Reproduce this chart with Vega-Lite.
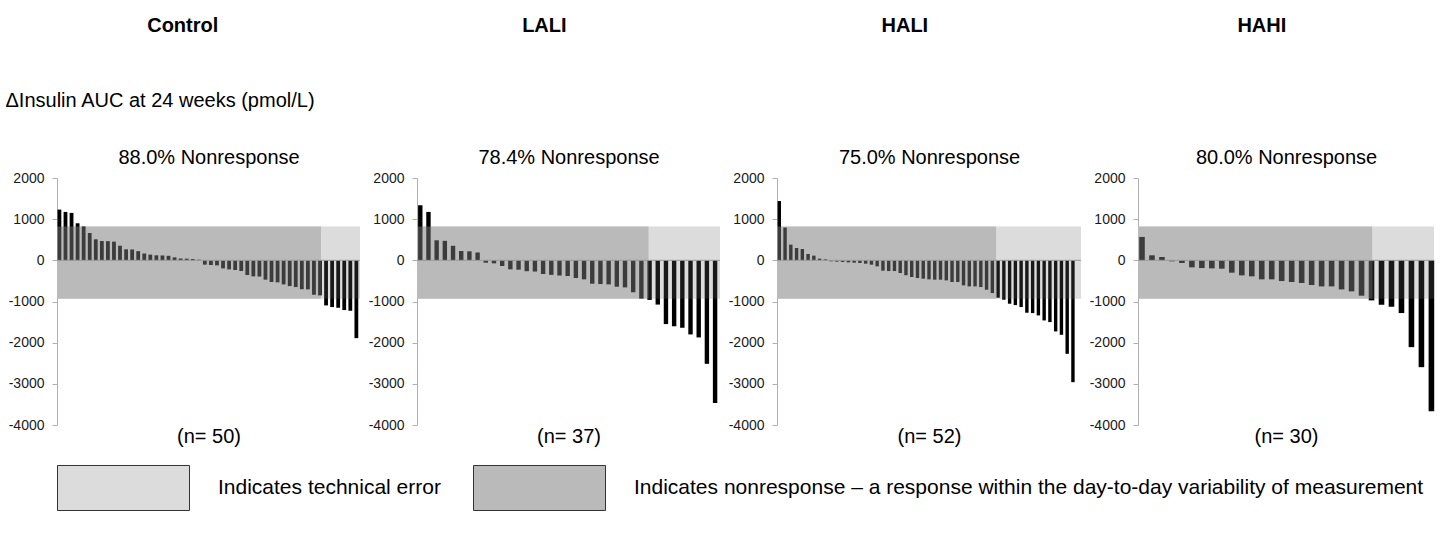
{
  "$schema": "https://vega.github.io/schema/vega-lite/v6.json",
  "background": "white",
  "padding": {"left": 5, "top": 16, "right": 5, "bottom": 5},
  "datasets": {
    "bars": [
      {"group": "Control", "rank": 1, "value": 1233}, {"group": "Control", "rank": 2, "value": 1176}, {"group": "Control", "rank": 3, "value": 1152}, {"group": "Control", "rank": 4, "value": 900}, {"group": "Control", "rank": 5, "value": 823},
      {"group": "Control", "rank": 6, "value": 665}, {"group": "Control", "rank": 7, "value": 511}, {"group": "Control", "rank": 8, "value": 470}, {"group": "Control", "rank": 9, "value": 466}, {"group": "Control", "rank": 10, "value": 454},
      {"group": "Control", "rank": 11, "value": 357}, {"group": "Control", "rank": 12, "value": 268}, {"group": "Control", "rank": 13, "value": 264}, {"group": "Control", "rank": 14, "value": 223}, {"group": "Control", "rank": 15, "value": 166},
      {"group": "Control", "rank": 16, "value": 138}, {"group": "Control", "rank": 17, "value": 122}, {"group": "Control", "rank": 18, "value": 118}, {"group": "Control", "rank": 19, "value": 110}, {"group": "Control", "rank": 20, "value": 73},
      {"group": "Control", "rank": 21, "value": 45}, {"group": "Control", "rank": 22, "value": 41}, {"group": "Control", "rank": 23, "value": 32}, {"group": "Control", "rank": 24, "value": 16}, {"group": "Control", "rank": 25, "value": -105},
      {"group": "Control", "rank": 26, "value": -114}, {"group": "Control", "rank": 27, "value": -122}, {"group": "Control", "rank": 28, "value": -195}, {"group": "Control", "rank": 29, "value": -219}, {"group": "Control", "rank": 30, "value": -235},
      {"group": "Control", "rank": 31, "value": -260}, {"group": "Control", "rank": 32, "value": -357}, {"group": "Control", "rank": 33, "value": -389}, {"group": "Control", "rank": 34, "value": -393}, {"group": "Control", "rank": 35, "value": -470},
      {"group": "Control", "rank": 36, "value": -527}, {"group": "Control", "rank": 37, "value": -535}, {"group": "Control", "rank": 38, "value": -584}, {"group": "Control", "rank": 39, "value": -625}, {"group": "Control", "rank": 40, "value": -649},
      {"group": "Control", "rank": 41, "value": -702}, {"group": "Control", "rank": 42, "value": -706}, {"group": "Control", "rank": 43, "value": -835}, {"group": "Control", "rank": 44, "value": -852}, {"group": "Control", "rank": 45, "value": -1095},
      {"group": "Control", "rank": 46, "value": -1135}, {"group": "Control", "rank": 47, "value": -1152}, {"group": "Control", "rank": 48, "value": -1208}, {"group": "Control", "rank": 49, "value": -1225}, {"group": "Control", "rank": 50, "value": -1890},

      {"group": "LALI", "rank": 1, "value": 1338}, {"group": "LALI", "rank": 2, "value": 1176}, {"group": "LALI", "rank": 3, "value": 487}, {"group": "LALI", "rank": 4, "value": 474}, {"group": "LALI", "rank": 5, "value": 353},
      {"group": "LALI", "rank": 6, "value": 227}, {"group": "LALI", "rank": 7, "value": 219}, {"group": "LALI", "rank": 8, "value": 191}, {"group": "LALI", "rank": 9, "value": -57}, {"group": "LALI", "rank": 10, "value": -73},
      {"group": "LALI", "rank": 11, "value": -138}, {"group": "LALI", "rank": 12, "value": -219}, {"group": "LALI", "rank": 13, "value": -227}, {"group": "LALI", "rank": 14, "value": -264}, {"group": "LALI", "rank": 15, "value": -272},
      {"group": "LALI", "rank": 16, "value": -333}, {"group": "LALI", "rank": 17, "value": -353}, {"group": "LALI", "rank": 18, "value": -369}, {"group": "LALI", "rank": 19, "value": -381}, {"group": "LALI", "rank": 20, "value": -430},
      {"group": "LALI", "rank": 21, "value": -462}, {"group": "LALI", "rank": 22, "value": -568}, {"group": "LALI", "rank": 23, "value": -576}, {"group": "LALI", "rank": 24, "value": -584}, {"group": "LALI", "rank": 25, "value": -641},
      {"group": "LALI", "rank": 26, "value": -657}, {"group": "LALI", "rank": 27, "value": -775}, {"group": "LALI", "rank": 28, "value": -929}, {"group": "LALI", "rank": 29, "value": -961}, {"group": "LALI", "rank": 30, "value": -1075},
      {"group": "LALI", "rank": 31, "value": -1549}, {"group": "LALI", "rank": 32, "value": -1602}, {"group": "LALI", "rank": 33, "value": -1638}, {"group": "LALI", "rank": 34, "value": -1800}, {"group": "LALI", "rank": 35, "value": -1873},
      {"group": "LALI", "rank": 36, "value": -2514}, {"group": "LALI", "rank": 37, "value": -3463},

      {"group": "HALI", "rank": 1, "value": 1440}, {"group": "HALI", "rank": 2, "value": 795}, {"group": "HALI", "rank": 3, "value": 381}, {"group": "HALI", "rank": 4, "value": 300}, {"group": "HALI", "rank": 5, "value": 276},
      {"group": "HALI", "rank": 6, "value": 154}, {"group": "HALI", "rank": 7, "value": 114}, {"group": "HALI", "rank": 8, "value": 41}, {"group": "HALI", "rank": 9, "value": 24}, {"group": "HALI", "rank": 10, "value": -24},
      {"group": "HALI", "rank": 11, "value": -32}, {"group": "HALI", "rank": 12, "value": -41}, {"group": "HALI", "rank": 13, "value": -49}, {"group": "HALI", "rank": 14, "value": -57}, {"group": "HALI", "rank": 15, "value": -65},
      {"group": "HALI", "rank": 16, "value": -81}, {"group": "HALI", "rank": 17, "value": -105}, {"group": "HALI", "rank": 18, "value": -146}, {"group": "HALI", "rank": 19, "value": -251}, {"group": "HALI", "rank": 20, "value": -260},
      {"group": "HALI", "rank": 21, "value": -260}, {"group": "HALI", "rank": 22, "value": -308}, {"group": "HALI", "rank": 23, "value": -365}, {"group": "HALI", "rank": 24, "value": -405}, {"group": "HALI", "rank": 25, "value": -430},
      {"group": "HALI", "rank": 26, "value": -446}, {"group": "HALI", "rank": 27, "value": -462}, {"group": "HALI", "rank": 28, "value": -470}, {"group": "HALI", "rank": 29, "value": -470}, {"group": "HALI", "rank": 30, "value": -487},
      {"group": "HALI", "rank": 31, "value": -527}, {"group": "HALI", "rank": 32, "value": -527}, {"group": "HALI", "rank": 33, "value": -608}, {"group": "HALI", "rank": 34, "value": -633}, {"group": "HALI", "rank": 35, "value": -633},
      {"group": "HALI", "rank": 36, "value": -649}, {"group": "HALI", "rank": 37, "value": -714}, {"group": "HALI", "rank": 38, "value": -795}, {"group": "HALI", "rank": 39, "value": -908}, {"group": "HALI", "rank": 40, "value": -957},
      {"group": "HALI", "rank": 41, "value": -1054}, {"group": "HALI", "rank": 42, "value": -1087}, {"group": "HALI", "rank": 43, "value": -1135}, {"group": "HALI", "rank": 44, "value": -1273}, {"group": "HALI", "rank": 45, "value": -1281},
      {"group": "HALI", "rank": 46, "value": -1338}, {"group": "HALI", "rank": 47, "value": -1460}, {"group": "HALI", "rank": 48, "value": -1500}, {"group": "HALI", "rank": 49, "value": -1727}, {"group": "HALI", "rank": 50, "value": -1809},
      {"group": "HALI", "rank": 51, "value": -2271}, {"group": "HALI", "rank": 52, "value": -2960},

      {"group": "HAHI", "rank": 1, "value": 568}, {"group": "HAHI", "rank": 2, "value": 122}, {"group": "HAHI", "rank": 3, "value": 81}, {"group": "HAHI", "rank": 4, "value": -24}, {"group": "HAHI", "rank": 5, "value": -65},
      {"group": "HAHI", "rank": 6, "value": -170}, {"group": "HAHI", "rank": 7, "value": -187}, {"group": "HAHI", "rank": 8, "value": -195}, {"group": "HAHI", "rank": 9, "value": -203}, {"group": "HAHI", "rank": 10, "value": -300},
      {"group": "HAHI", "rank": 11, "value": -365}, {"group": "HAHI", "rank": 12, "value": -389}, {"group": "HAHI", "rank": 13, "value": -462}, {"group": "HAHI", "rank": 14, "value": -462}, {"group": "HAHI", "rank": 15, "value": -503},
      {"group": "HAHI", "rank": 16, "value": -527}, {"group": "HAHI", "rank": 17, "value": -551}, {"group": "HAHI", "rank": 18, "value": -600}, {"group": "HAHI", "rank": 19, "value": -633}, {"group": "HAHI", "rank": 20, "value": -633},
      {"group": "HAHI", "rank": 21, "value": -706}, {"group": "HAHI", "rank": 22, "value": -754}, {"group": "HAHI", "rank": 23, "value": -859}, {"group": "HAHI", "rank": 24, "value": -973}, {"group": "HAHI", "rank": 25, "value": -1079},
      {"group": "HAHI", "rank": 26, "value": -1127}, {"group": "HAHI", "rank": 27, "value": -1281}, {"group": "HAHI", "rank": 28, "value": -2109}, {"group": "HAHI", "rank": 29, "value": -2595}, {"group": "HAHI", "rank": 30, "value": -3666}
    ],
    "bands": [
      {"group": "Control", "kind": "Indicates nonresponse –  a response within the day-to-day variability of measurement", "start": 0.6, "end": 44.2, "lo": -935, "hi": 820},
      {"group": "Control", "kind": "Indicates technical error", "start": 44.2, "end": 50.6, "lo": -935, "hi": 820},
      {"group": "LALI", "kind": "Indicates nonresponse –  a response within the day-to-day variability of measurement", "start": 0.6, "end": 28.9, "lo": -935, "hi": 820},
      {"group": "LALI", "kind": "Indicates technical error", "start": 28.9, "end": 37.6, "lo": -935, "hi": 820},
      {"group": "HALI", "kind": "Indicates nonresponse –  a response within the day-to-day variability of measurement", "start": 0.6, "end": 38.7, "lo": -935, "hi": 820},
      {"group": "HALI", "kind": "Indicates technical error", "start": 38.7, "end": 53.4, "lo": -935, "hi": 820},
      {"group": "HAHI", "kind": "Indicates nonresponse –  a response within the day-to-day variability of measurement", "start": 0.6, "end": 24.1, "lo": -935, "hi": 820},
      {"group": "HAHI", "kind": "Indicates technical error", "start": 24.1, "end": 30.26, "lo": -935, "hi": 820}
    ],
    "baseline": [{"base": 0}]
  },
  "spacing": 7,
  "hconcat": [
    {
      "width": 303, "height": 247,
      "title": {"text": "Control", "offset": 54},
      "resolve": {"axis": {"x": "independent"}},
      "layer": [
        {
          "data": {"name": "bands"},
          "transform": [{"filter": "datum.group === 'Control'"}],
          "mark": {"type": "rect"},
          "encoding": {
            "x": {"field": "start", "type": "quantitative", "scale": {"zero": false, "nice": false, "padding": 0},
                  "axis": {"orient": "top", "title": "88.0% Nonresponse", "labels": false, "ticks": false, "domain": false, "grid": false, "titlePadding": 11}},
            "x2": {"field": "end"},
            "y": {"field": "lo", "type": "quantitative", "scale": {"domain": [-4000, 2000], "nice": false},
                  "axis": {"title": "ΔInsulin AUC at 24 weeks (pmol/L)", "titleAngle": 0, "titleAlign": "left", "titleBaseline": "middle", "titleX": -52, "titleY": -78}},
            "y2": {"field": "hi"},
            "color": {"field": "kind", "type": "nominal", "title": null,
                      "scale": {"domain": ["Indicates technical error", "Indicates nonresponse –  a response within the day-to-day variability of measurement"], "range": ["#dcdcdc", "#bababa"]}}
          }
        },
        {
          "data": {"name": "bars"},
          "transform": [{"filter": "datum.group === 'Control'"}],
          "mark": {"type": "bar", "color": "#000000", "width": 3.8},
          "encoding": {
            "x": {"field": "rank", "type": "quantitative",
                  "axis": {"orient": "bottom", "title": "(n= 50)", "labels": false, "ticks": false, "domain": false, "grid": false, "titlePadding": 1}},
            "y": {"field": "value", "type": "quantitative",
                  "axis": {"title": "ΔInsulin AUC at 24 weeks (pmol/L)", "titleAngle": 0, "titleAlign": "left", "titleBaseline": "middle", "titleX": -52, "titleY": -78}}
          }
        },
        {
          "data": {"name": "bands"},
          "transform": [{"filter": "datum.group === 'Control' && datum.kind !== 'Indicates technical error'"}],
          "mark": {"type": "rect", "color": "#bababa", "opacity": 0.32},
          "encoding": {
            "x": {"field": "start", "type": "quantitative", "axis": null},
            "x2": {"field": "end"},
            "y": {"field": "lo", "type": "quantitative",
                  "axis": {"title": "ΔInsulin AUC at 24 weeks (pmol/L)", "titleAngle": 0, "titleAlign": "left", "titleBaseline": "middle", "titleX": -52, "titleY": -78}},
            "y2": {"field": "hi"}
          }
        },
        {
          "data": {"name": "bands"},
          "transform": [{"filter": "datum.group === 'Control' && datum.kind === 'Indicates technical error'"}],
          "mark": {"type": "rect", "color": "#dcdcdc", "opacity": 0.115},
          "encoding": {
            "x": {"field": "start", "type": "quantitative", "axis": null},
            "x2": {"field": "end"},
            "y": {"field": "lo", "type": "quantitative",
                  "axis": {"title": "ΔInsulin AUC at 24 weeks (pmol/L)", "titleAngle": 0, "titleAlign": "left", "titleBaseline": "middle", "titleX": -52, "titleY": -78}},
            "y2": {"field": "hi"}
          }
        },
        {
          "data": {"name": "baseline"},
          "mark": {"type": "rule", "color": "#9a9a9a", "strokeWidth": 1},
          "encoding": {"y": {"field": "base", "type": "quantitative",
                  "axis": {"title": "ΔInsulin AUC at 24 weeks (pmol/L)", "titleAngle": 0, "titleAlign": "left", "titleBaseline": "middle", "titleX": -52, "titleY": -78}}}
        }
      ]
    },
    {
      "width": 303, "height": 247,
      "title": {"text": "LALI", "offset": 111},
      "resolve": {"axis": {"x": "independent"}},
      "layer": [
        {
          "data": {"name": "bands"},
          "transform": [{"filter": "datum.group === 'LALI'"}],
          "mark": {"type": "rect"},
          "encoding": {
            "x": {"field": "start", "type": "quantitative", "scale": {"zero": false, "nice": false, "padding": 0},
                  "axis": {"orient": "top", "title": "78.4% Nonresponse", "labels": false, "ticks": false, "domain": false, "grid": false, "titlePadding": 11}},
            "x2": {"field": "end"},
            "y": {"field": "lo", "type": "quantitative", "scale": {"domain": [-4000, 2000], "nice": false}, "axis": {"title": null}},
            "y2": {"field": "hi"},
            "color": {"field": "kind", "type": "nominal", "title": null,
                      "scale": {"domain": ["Indicates technical error", "Indicates nonresponse –  a response within the day-to-day variability of measurement"], "range": ["#dcdcdc", "#bababa"]}}
          }
        },
        {
          "data": {"name": "bars"},
          "transform": [{"filter": "datum.group === 'LALI'"}],
          "mark": {"type": "bar", "color": "#000000", "width": 4.4},
          "encoding": {
            "x": {"field": "rank", "type": "quantitative",
                  "axis": {"orient": "bottom", "title": "(n= 37)", "labels": false, "ticks": false, "domain": false, "grid": false, "titlePadding": 1}},
            "y": {"field": "value", "type": "quantitative", "axis": {"title": null}}
          }
        },
        {
          "data": {"name": "bands"},
          "transform": [{"filter": "datum.group === 'LALI' && datum.kind !== 'Indicates technical error'"}],
          "mark": {"type": "rect", "color": "#bababa", "opacity": 0.32},
          "encoding": {
            "x": {"field": "start", "type": "quantitative", "axis": null},
            "x2": {"field": "end"},
            "y": {"field": "lo", "type": "quantitative", "axis": {"title": null}},
            "y2": {"field": "hi"}
          }
        },
        {
          "data": {"name": "bands"},
          "transform": [{"filter": "datum.group === 'LALI' && datum.kind === 'Indicates technical error'"}],
          "mark": {"type": "rect", "color": "#dcdcdc", "opacity": 0.115},
          "encoding": {
            "x": {"field": "start", "type": "quantitative", "axis": null},
            "x2": {"field": "end"},
            "y": {"field": "lo", "type": "quantitative", "axis": {"title": null}},
            "y2": {"field": "hi"}
          }
        },
        {
          "data": {"name": "baseline"},
          "mark": {"type": "rule", "color": "#9a9a9a", "strokeWidth": 1},
          "encoding": {"y": {"field": "base", "type": "quantitative", "axis": {"title": null}}}
        }
      ]
    },
    {
      "width": 304, "height": 247,
      "title": {"text": "HALI", "offset": 111},
      "resolve": {"axis": {"x": "independent"}},
      "layer": [
        {
          "data": {"name": "bands"},
          "transform": [{"filter": "datum.group === 'HALI'"}],
          "mark": {"type": "rect"},
          "encoding": {
            "x": {"field": "start", "type": "quantitative", "scale": {"zero": false, "nice": false, "padding": 0},
                  "axis": {"orient": "top", "title": "75.0% Nonresponse", "labels": false, "ticks": false, "domain": false, "grid": false, "titlePadding": 11}},
            "x2": {"field": "end"},
            "y": {"field": "lo", "type": "quantitative", "scale": {"domain": [-4000, 2000], "nice": false}, "axis": {"title": null}},
            "y2": {"field": "hi"},
            "color": {"field": "kind", "type": "nominal", "title": null,
                      "scale": {"domain": ["Indicates technical error", "Indicates nonresponse –  a response within the day-to-day variability of measurement"], "range": ["#dcdcdc", "#bababa"]}}
          }
        },
        {
          "data": {"name": "bars"},
          "transform": [{"filter": "datum.group === 'HALI'"}],
          "mark": {"type": "bar", "color": "#000000", "width": 3.4},
          "encoding": {
            "x": {"field": "rank", "type": "quantitative",
                  "axis": {"orient": "bottom", "title": "(n= 52)", "labels": false, "ticks": false, "domain": false, "grid": false, "titlePadding": 1}},
            "y": {"field": "value", "type": "quantitative", "axis": {"title": null}}
          }
        },
        {
          "data": {"name": "bands"},
          "transform": [{"filter": "datum.group === 'HALI' && datum.kind !== 'Indicates technical error'"}],
          "mark": {"type": "rect", "color": "#bababa", "opacity": 0.32},
          "encoding": {
            "x": {"field": "start", "type": "quantitative", "axis": null},
            "x2": {"field": "end"},
            "y": {"field": "lo", "type": "quantitative", "axis": {"title": null}},
            "y2": {"field": "hi"}
          }
        },
        {
          "data": {"name": "bands"},
          "transform": [{"filter": "datum.group === 'HALI' && datum.kind === 'Indicates technical error'"}],
          "mark": {"type": "rect", "color": "#dcdcdc", "opacity": 0.115},
          "encoding": {
            "x": {"field": "start", "type": "quantitative", "axis": null},
            "x2": {"field": "end"},
            "y": {"field": "lo", "type": "quantitative", "axis": {"title": null}},
            "y2": {"field": "hi"}
          }
        },
        {
          "data": {"name": "baseline"},
          "mark": {"type": "rule", "color": "#9a9a9a", "strokeWidth": 1},
          "encoding": {"y": {"field": "base", "type": "quantitative", "axis": {"title": null}}}
        }
      ]
    },
    {
      "width": 296, "height": 247,
      "title": {"text": "HAHI", "offset": 111},
      "resolve": {"axis": {"x": "independent"}},
      "layer": [
        {
          "data": {"name": "bands"},
          "transform": [{"filter": "datum.group === 'HAHI'"}],
          "mark": {"type": "rect"},
          "encoding": {
            "x": {"field": "start", "type": "quantitative", "scale": {"zero": false, "nice": false, "padding": 0},
                  "axis": {"orient": "top", "title": "80.0% Nonresponse", "labels": false, "ticks": false, "domain": false, "grid": false, "titlePadding": 11}},
            "x2": {"field": "end"},
            "y": {"field": "lo", "type": "quantitative", "scale": {"domain": [-4000, 2000], "nice": false}, "axis": {"title": null}},
            "y2": {"field": "hi"},
            "color": {"field": "kind", "type": "nominal", "title": null,
                      "scale": {"domain": ["Indicates technical error", "Indicates nonresponse –  a response within the day-to-day variability of measurement"], "range": ["#dcdcdc", "#bababa"]}}
          }
        },
        {
          "data": {"name": "bars"},
          "transform": [{"filter": "datum.group === 'HAHI'"}],
          "mark": {"type": "bar", "color": "#000000", "width": 5.6},
          "encoding": {
            "x": {"field": "rank", "type": "quantitative",
                  "axis": {"orient": "bottom", "title": "(n= 30)", "labels": false, "ticks": false, "domain": false, "grid": false, "titlePadding": 1}},
            "y": {"field": "value", "type": "quantitative", "axis": {"title": null}}
          }
        },
        {
          "data": {"name": "bands"},
          "transform": [{"filter": "datum.group === 'HAHI' && datum.kind !== 'Indicates technical error'"}],
          "mark": {"type": "rect", "color": "#bababa", "opacity": 0.32},
          "encoding": {
            "x": {"field": "start", "type": "quantitative", "axis": null},
            "x2": {"field": "end"},
            "y": {"field": "lo", "type": "quantitative", "axis": {"title": null}},
            "y2": {"field": "hi"}
          }
        },
        {
          "data": {"name": "bands"},
          "transform": [{"filter": "datum.group === 'HAHI' && datum.kind === 'Indicates technical error'"}],
          "mark": {"type": "rect", "color": "#dcdcdc", "opacity": 0.115},
          "encoding": {
            "x": {"field": "start", "type": "quantitative", "axis": null},
            "x2": {"field": "end"},
            "y": {"field": "lo", "type": "quantitative", "axis": {"title": null}},
            "y2": {"field": "hi"}
          }
        },
        {
          "data": {"name": "baseline"},
          "mark": {"type": "rule", "color": "#9a9a9a", "strokeWidth": 1},
          "encoding": {"y": {"field": "base", "type": "quantitative", "axis": {"title": null}}}
        }
      ]
    }
  ],
  "config": {
    "font": "Liberation Sans",
    "locale": {"number": {"decimal": ".", "thousands": "", "grouping": [3], "currency": ["$", ""], "minus": "-"}},
    "view": {"stroke": null},
    "title": {"fontSize": 20, "fontWeight": "bold", "color": "#000000", "anchor": "middle", "frame": "bounds"},
    "axis": {
      "titleFontSize": 20, "titleFontWeight": "normal", "titleColor": "#000000",
      "labelFontSize": 14, "labelColor": "#1a1a1a",
      "domainColor": "#b0b0b0", "tickColor": "#b0b0b0", "tickSize": 5, "labelPadding": 8,
      "grid": false
    },
    "axisY": {"values": [-4000, -3000, -2000, -1000, 0, 1000, 2000], "format": "d"},
    "legend": {
      "orient": "bottom", "direction": "horizontal", "offset": -25, "padding": 0,
      "symbolType": "M-1,-0.341H1V0.341H-1Z", "symbolSize": 17424,
      "symbolStrokeColor": "#333333", "symbolStrokeWidth": 1,
      "labelFontSize": 21, "labelColor": "#000000", "labelOffset": 28, "labelLimit": 2000,
      "columnPadding": 30
    }
  }
}
